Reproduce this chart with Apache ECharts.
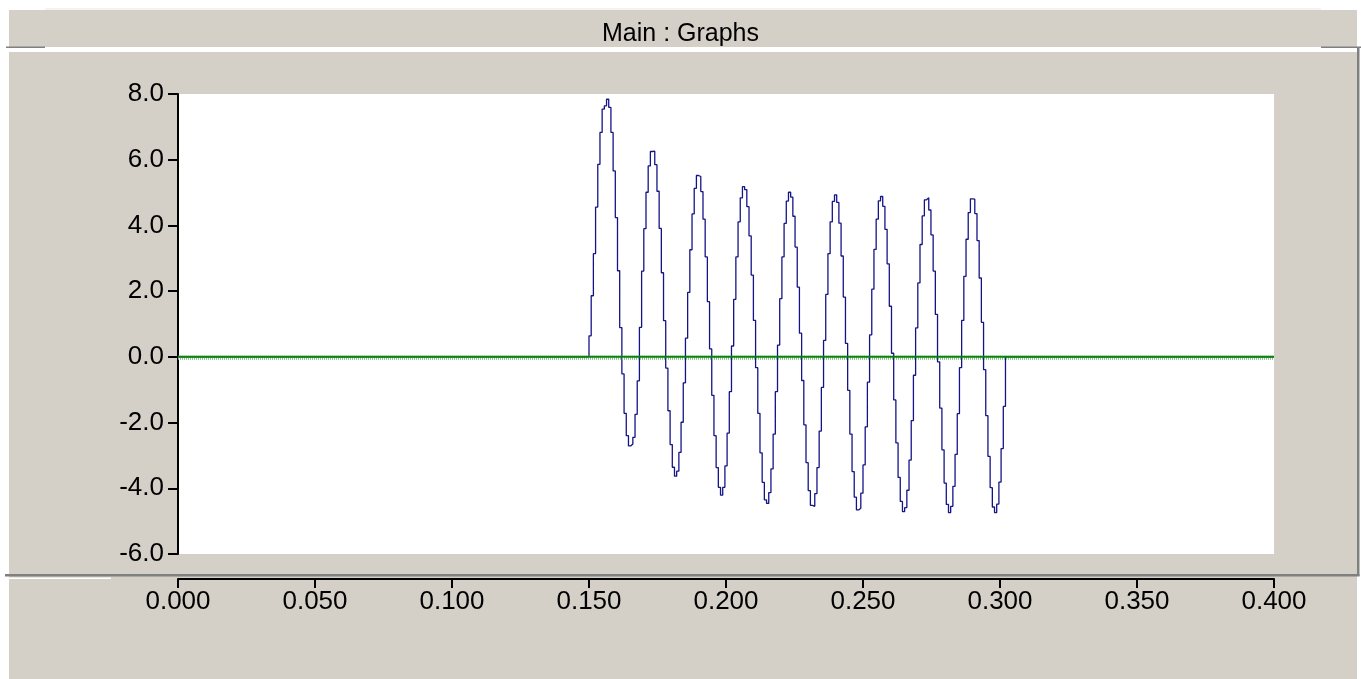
<!DOCTYPE html>
<html>
<head>
<meta charset="utf-8">
<title>Main : Graphs</title>
<script src="https://cdn.jsdelivr.net/npm/echarts@6/dist/echarts.min.js"></script>
<style>
  html, body { margin: 0; padding: 0; background: #ffffff; }
  #chart { width: 1361px; height: 679px; }
</style>
</head>
<body>
<div id="chart"></div>
<script>
const sampleStart = 0.150
const sampleStep = 0.0008
const current = [
  0.64, 1.86, 3.14, 4.56, 5.86, 6.83, 7.54, 7.64, 7.84, 7.59,
  6.83, 5.66, 4.24, 2.62, 0.89, -0.52, -1.72, -2.40, -2.71, -2.65,
  -2.45, -1.75, -0.73, 0.90, 2.61, 3.90, 5.01, 5.81, 6.25, 6.26,
  5.85, 5.04, 3.91, 2.56, 1.10, -0.34, -1.64, -2.67, -3.36, -3.63,
  -3.48, -2.91, -1.99, -0.79, 0.57, 1.96, 3.26, 4.35, 5.13, 5.52,
  5.49, 5.03, 4.19, 3.04, 1.68, 0.24, -1.17, -2.40, -3.37, -3.97,
  -4.21, -3.97, -3.32, -2.32, -1.06, 0.33, 1.75, 3.04, 4.11, 4.84,
  5.18, 5.09, 4.57, 3.68, 2.49, 1.11, -0.33, -1.72, -2.92, -3.82,
  -4.35, -4.46, -4.13, -3.41, -2.35, -1.06, 0.36, 1.77, 3.04, 4.06,
  4.74, 5.01, 4.86, 4.28, 3.34, 2.12, 0.72, -0.72, -2.07, -3.22,
  -4.07, -4.52, -4.55, -4.16, -3.37, -2.26, -0.93, 0.50, 1.90, 3.14,
  4.11, 4.73, 4.93, 4.70, 4.07, 3.07, 1.82, 0.41, -1.02, -2.35,
  -3.49, -4.27, -4.66, -4.61, -4.15, -3.29, -2.13, -0.77, 0.67, 2.06,
  3.27, 4.19, 4.75, 4.88, 4.58, 3.88, 2.83, 1.54, 0.11, -1.31,
  -2.62, -3.67, -4.40, -4.71, -4.59, -4.06, -3.14, -1.94, -0.56, 0.88,
  2.25, 3.42, 4.29, 4.78, 4.84, 4.47, 3.71, 2.61, 1.29, -0.15,
  -1.56, -2.83, -3.84, -4.49, -4.74, -4.55, -3.94, -2.97, -1.73, -0.33,
  1.11, 2.45, 3.58, 4.39, 4.81, 4.80, 4.36, 3.54, 2.40, 1.05,
  -0.39, -1.79, -3.03, -3.98, -4.57, -4.74, -4.48, -3.81, -2.79, -1.51,
  0
]
// green reference trace (flat at zero over the whole window)
const referenceTime = [0, 0.4]
const referenceValue = [0, 0]

const xMin = 0, xMax = 0.4, xStep = 0.05
const yMin = -6, yMax = 8, yStep = 2

const panel = '#d4d0c8'
const shade = '#808080'
const font = '"Liberation Sans", Arial, sans-serif'

const tracePoints = [[xMin, 0]]
current.forEach((v, i) => {
  tracePoints.push([sampleStart + i * sampleStep, v])
})
tracePoints.push([xMax, 0])

const refPoints = referenceTime.map((t, i) => [t, referenceValue[i]])

const chart = echarts.init(document.getElementById('chart'), null, { renderer: 'canvas' })

chart.setOption({
  animation: false,
  backgroundColor: '#ffffff',
  // window frame around the graph
  graphic: [
    { type: 'rect', z: -10, shape: { x: 9, y: 10, width: 1348, height: 37 }, style: { fill: panel } },
    { type: 'rect', z: -10, shape: { x: 45, y: 8, width: 1276, height: 2 }, style: { fill: '#f4f3ef' } },
    { type: 'rect', z: -10, shape: { x: 6, y: 46.5, width: 39, height: 1.5 }, style: { fill: shade } },
    { type: 'rect', z: -10, shape: { x: 1321, y: 46.5, width: 40, height: 1.5 }, style: { fill: shade } },
    { type: 'rect', z: -10, shape: { x: 9, y: 52, width: 1348, height: 627 }, style: { fill: panel } },
    { type: 'rect', z: -10, shape: { x: 1357, y: 47, width: 2.5, height: 529 }, style: { fill: shade } },
    { type: 'rect', z: -10, shape: { x: 5, y: 574, width: 1354.5, height: 2.5 }, style: { fill: shade } },
    { type: 'rect', z: -10, shape: { x: 6, y: 577.5, width: 105, height: 1.5 }, style: { fill: '#ffffff' } }
  ],
  title: {
    text: 'Main : Graphs',
    left: 'center',
    top: 17,
    textStyle: { fontFamily: font, fontSize: 25, fontWeight: 'normal', color: '#000000' }
  },
  grid: {
    left: 178,
    right: 87,
    top: 94,
    bottom: 125,
    show: true,
    backgroundColor: '#ffffff',
    borderWidth: 0
  },
  xAxis: {
    type: 'value',
    min: xMin,
    max: xMax,
    interval: xStep,
    offset: 25,
    axisLine: { onZero: false, lineStyle: { color: '#000000', width: 2 } },
    axisTick: { length: 9, lineStyle: { color: '#000000', width: 2 } },
    axisLabel: {
      margin: 10,
      fontFamily: font,
      fontSize: 26,
      color: '#000000',
      formatter: (v) => v.toFixed(3)
    },
    splitLine: { show: false }
  },
  yAxis: {
    type: 'value',
    min: yMin,
    max: yMax,
    interval: yStep,
    axisLine: { show: true, onZero: false, lineStyle: { color: '#000000', width: 2 } },
    axisTick: { show: true, length: 10, lineStyle: { color: '#000000', width: 2 } },
    axisLabel: {
      margin: 14,
      fontFamily: font,
      fontSize: 26,
      color: '#000000',
      formatter: (v) => v.toFixed(1)
    },
    splitLine: { show: false }
  },
  series: [
    {
      name: 'current',
      type: 'line',
      step: 'end',
      data: tracePoints,
      showSymbol: false,
      lineStyle: { color: '#141487', width: 1.3 },
      z: 2
    },
    {
      // hatch under the green trace, drawn as a dashed shadow
      name: 'reference-hatch',
      type: 'line',
      data: refPoints,
      showSymbol: false,
      silent: true,
      lineStyle: {
        color: '#7fbf7f',
        width: 2,
        type: [1, 1],
        shadowColor: '#7fbf7f',
        shadowOffsetY: 2,
        shadowBlur: 0
      },
      z: 3
    },
    {
      name: 'reference',
      type: 'line',
      data: refPoints,
      showSymbol: false,
      lineStyle: { color: '#0a820a', width: 2 },
      z: 4
    }
  ]
})
</script>
</body>
</html>
